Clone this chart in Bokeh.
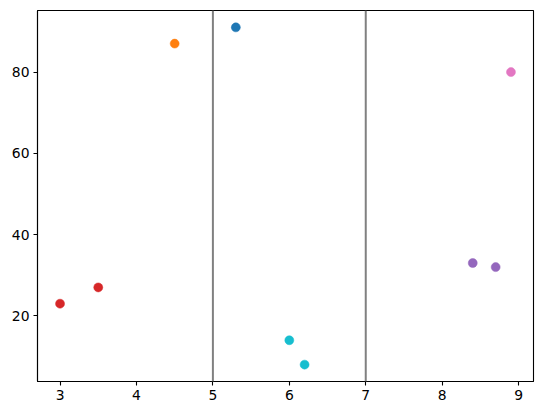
from bokeh.plotting import figure
from bokeh.models import Range1d, FixedTicker, Span, ColumnDataSource
from bokeh.embed import file_html
from bokeh.resources import INLINE

xs = [3.0, 3.5, 4.5, 5.3, 6.0, 6.2, 8.4, 8.7, 8.9]
ys = [23, 27, 87, 91, 14, 8, 33, 32, 80]
colors = ["#d62728", "#d62728", "#ff7f0e", "#1f77b4", "#17becf", "#17becf",
          "#9467bd", "#9467bd", "#e377c2"]
vlines = [5, 7]
xticks = [3, 4, 5, 6, 7, 8, 9]
yticks = [20, 40, 60, 80]

pad_x = (max(xs) - min(xs)) * 0.05
pad_y = (max(ys) - min(ys)) * 0.05

p = figure(width=543, height=413, output_backend="svg", toolbar_location=None,
           x_range=Range1d(min(xs) - pad_x, max(xs) + pad_x),
           y_range=Range1d(min(ys) - pad_y, max(ys) + pad_y),
           min_border_left=37, min_border_top=10, min_border_right=10, min_border_bottom=32)
p.grid.visible = False
p.outline_line_color = "black"
p.outline_line_width = 1.1
p.background_fill_color = "white"
p.border_fill_color = "white"

for ax, ticks in ((p.xaxis[0], xticks), (p.yaxis[0], yticks)):
    ax.ticker = FixedTicker(ticks=ticks)
    ax.axis_line_color = "black"
    ax.axis_line_width = 1.1
    ax.major_tick_in = 0
    ax.major_tick_out = 4
    ax.major_tick_line_width = 1.1
    ax.minor_tick_line_color = None
    ax.major_label_text_font = "DejaVu Sans"
    ax.major_label_text_font_size = "13.9px"
    ax.major_label_text_color = "black"
    ax.major_label_standoff = 4

for v in vlines:
    p.add_layout(Span(location=v, dimension="height", line_color="gray", line_width=2))

src = ColumnDataSource(dict(x=xs, y=ys, c=colors))
p.scatter("x", "y", source=src, size=9, fill_color="c", line_color="c", line_width=0.5)

open("out.html", "w").write(file_html(p, INLINE))
